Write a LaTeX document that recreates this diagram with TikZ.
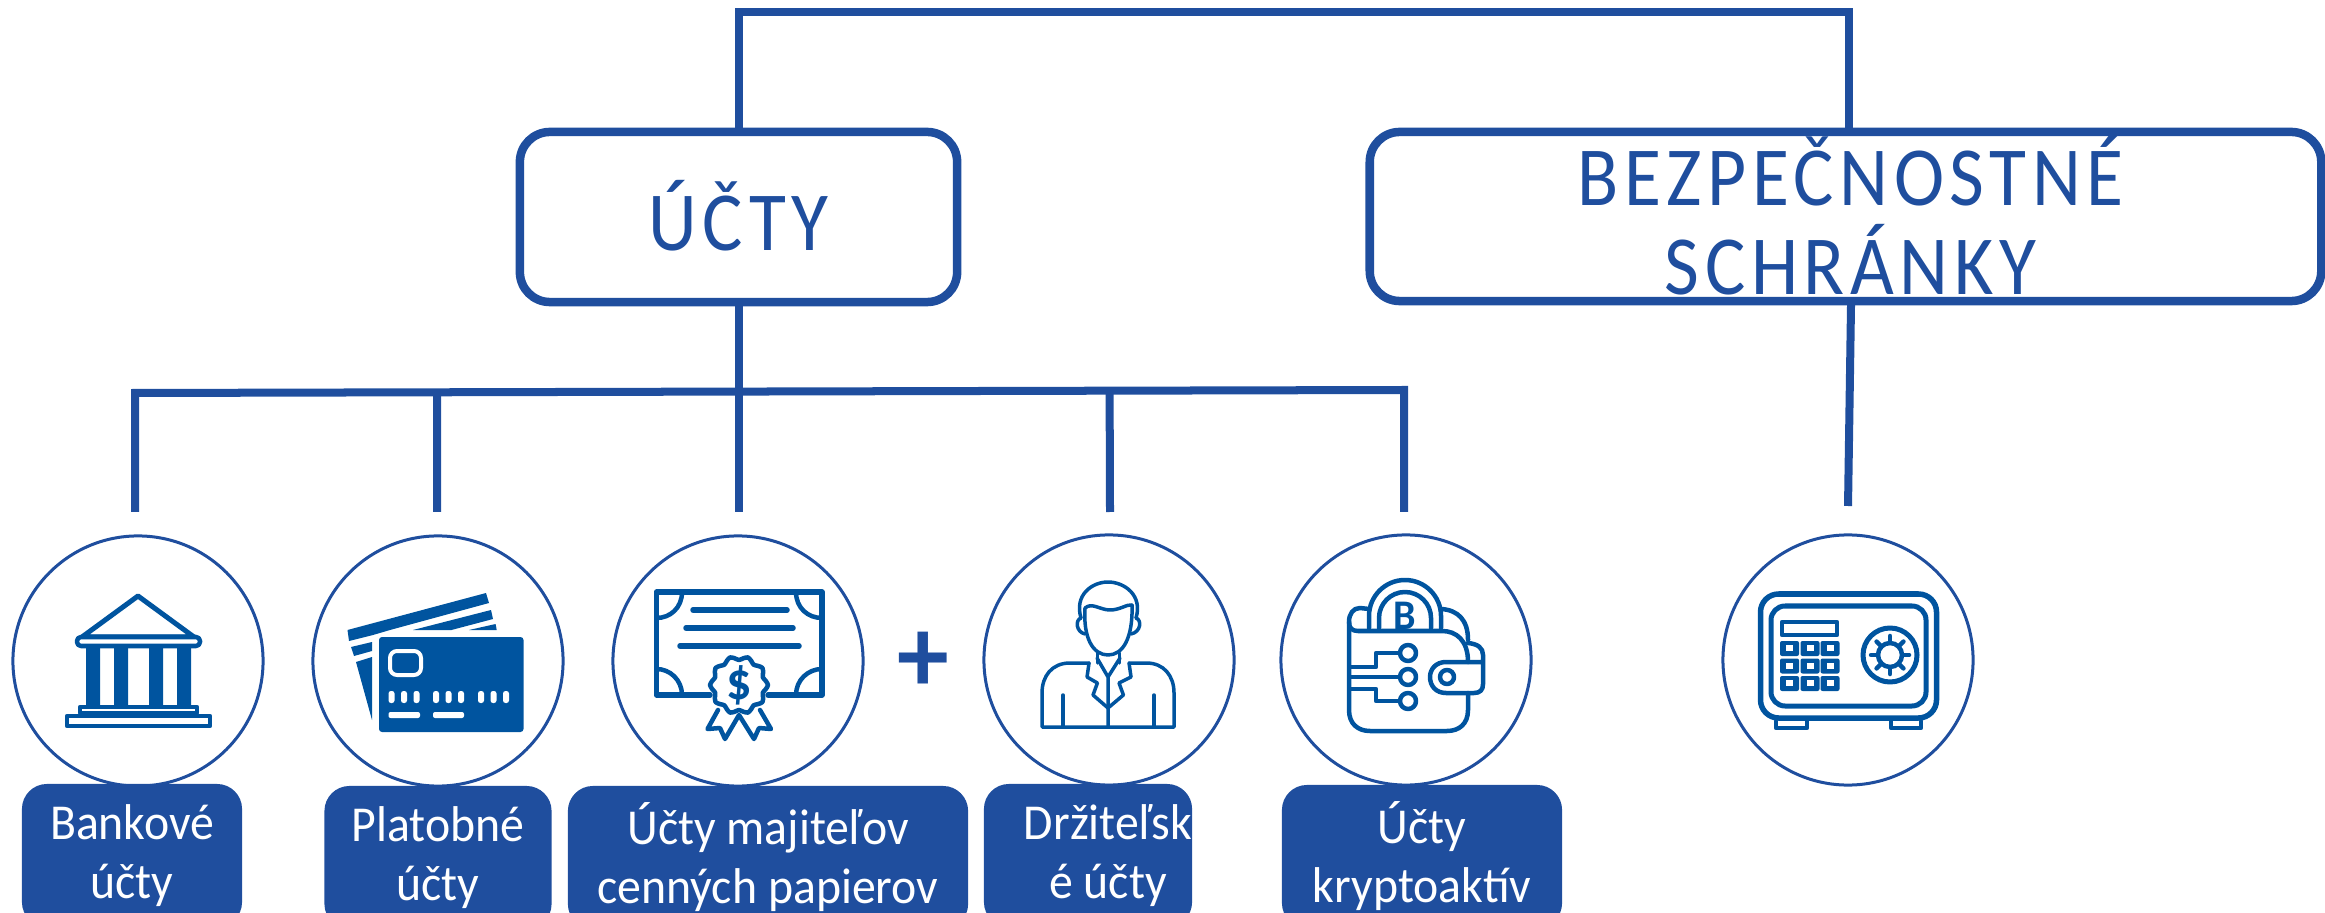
\documentclass[tikz,border=0pt]{standalone}
\usepackage{fontspec}
\usetikzlibrary{calc}
\setmainfont[FakeStretch=0.95]{Carlito}
\newfontfamily\headfont[LetterSpace=6.7,FakeStretch=0.9]{Carlito}
\newcommand{\headup}[1]{\raisebox{0.03cm}{#1}}
\definecolor{boxblue}{HTML}{1F4E9E}
\definecolor{iconblue}{HTML}{00549F}
\tikzset{
	conn/.style={draw=boxblue, line width=0.08cm},
	headbox/.style={draw=boxblue, line width=0.085cm, rounded corners=0.3cm, fill=white, align=center, inner sep=0pt,
		text=boxblue, font=\headfont\fontsize{23.9}{25.3}\selectfont},
	ring/.style={circle, draw=boxblue, line width=0.03cm, minimum size=2.5cm, inner sep=0pt},
	labelbox/.style={rectangle, fill=boxblue, rounded corners=0.25cm, text=white, align=center, inner sep=0pt,
		minimum height=1.43cm, font=\fontsize{14.3}{16.8}\selectfont},
	icon/.style={draw=iconblue, line width=0.045cm, line join=round, line cap=round},
	thin icon/.style={draw=iconblue, line width=0.035cm, line join=round, line cap=round}
}
\begin{document}
\begin{tikzpicture}[x=0.01cm, y=-0.01cm]
	\useasboundingbox (0,0) rectangle (2325,913);
	\clip (0,0) rectangle (2325,913);

	% top level boxes
	\node[headbox, minimum width=4.37cm, minimum height=1.70cm] (ucty) at (738.5,217) {\headup{ÚČTY}};
	\node[headbox, minimum width=9.51cm, minimum height=1.69cm] (bezp) at (1845.5,216.5) {\hspace*{0.1cm}\headup{BEZPEČNOSTNÉ}\\\hspace*{0.1cm}\headup{SCHRÁNKY}};

	% rings
	\node[ring] (bank) at (138,661) {};
	\node[ring] (card) at (438,661) {};
	\node[ring] (cert) at (738,661) {};
	\node[ring] (pers) at (1109,660) {};
	\node[ring] (wall) at (1406,660) {};
	\node[ring] (safe) at (1848,660) {};

	% labels
	\node[labelbox, minimum width=2.20cm] (lbank) at (132,855.5) {Bankové\\účty};
	\node[labelbox, minimum width=2.27cm] (lcard) at (438,857.5) {Platobné\\účty};
	\node[labelbox, minimum width=4.00cm] (lcert) at (768,857.5) {Účty majiteľov\\cenných papierov};
	\node[labelbox, minimum width=2.06cm] (lpers) at (1088,855.5) {\hspace*{0.4cm}Držiteľsk\\\hspace*{0.4cm}é účty};
	\node[labelbox, minimum width=2.80cm] (lwall) at (1422,856.5) {Účty\\kryptoaktív};

	\node[text=boxblue, inner sep=0pt, font=\bfseries\fontsize{31}{31}\selectfont] (plus) at (923,662) {+};

	% connectors
	\coordinate (topr) at (1849,12);
	\coordinate (busl) at (135,393);
	\coordinate (busr) at (1404,390);
	\coordinate (b2) at ($(busl)!0.238!(busr)$);
	\coordinate (b4) at ($(busl)!0.768!(busr)$);
	\coordinate (e1) at (135,512);
	\coordinate (e2) at (437,512);
	\coordinate (e3) at (738.5,512);
	\coordinate (e4) at (1110,512);
	\coordinate (e5) at (1404,512);
	\coordinate (e6) at (1848,506);

	\draw[conn] (ucty.north) |- (topr) -- (topr |- bezp.north);
	\draw[conn] (e1) -- (busl) -- (busr) -- (e5);
	\draw[conn] (ucty.south) -- (e3);
	\draw[conn] (b2) -- (e2);
	\draw[conn] (b4) -- (e4);
	\draw[conn] (1851,305) -- (e6);

	% bank
	\draw[icon, line width=0.05cm] (138,596) -- (82,637) -- (194,637) -- cycle;
	\draw[icon, line width=0.045cm, fill=white, rounded corners=0.04cm] (77,637) rectangle (200,646);
	\fill[iconblue] (86,648) rectangle (100,705) (114,648) rectangle (128,705) (149,648) rectangle (163,705) (177,648) rectangle (191,705);
	\draw[icon, fill=white] (80,707) rectangle (197,713);
	\draw[icon, fill=white] (67,716) rectangle (210,726);

	% cards
	\fill[iconblue] (347.5,630) -- (486,593) -- (489,603) -- (390,630) -- (373,635) -- (349,641) -- cycle;
	\fill[iconblue] (413,630) -- (491,610) -- (493,619) -- (451.5,630) -- cycle;
	\fill[iconblue] (469,630) -- (495.6,624) -- (496.7,630) -- cycle;
	\fill[iconblue] (351,647) -- (372,642) -- (372,651) -- (354,656) -- cycle;
	\fill[iconblue] (356,662) -- (372,657) -- (372,720) -- cycle;
	\fill[iconblue, rounded corners=0.03cm] (379,637) rectangle (523.5,732);
	\draw[white, line width=0.04cm, rounded corners=0.07cm] (390,651) rectangle (421,675);
	\foreach \g in {388.5,433,478}{
		\foreach \d in {0,12.5,25}{
			\fill[white, rounded corners=0.025cm] (\g+\d,691) rectangle (\g+\d+6,703);
		}
	}
	\fill[white, rounded corners=0.02cm] (388.5,712) rectangle (420,718) (433,712) rectangle (464,718);

	% certificate
	\draw[icon, line width=0.055cm] (710,695) -- (656.5,695) -- (656.5,592) -- (822,592) -- (822,695) -- (768,695);
	\draw[icon] (682,592) .. controls (682,608) and (670,618) .. (656.5,618);
	\draw[icon] (796,592) .. controls (796,608) and (808,618) .. (822,618);
	\draw[icon] (656.5,669) .. controls (670,669) and (682,680) .. (682,695);
	\draw[icon] (822,669) .. controls (808,669) and (796,680) .. (796,695);
	\draw[icon, line width=0.055cm] (693,610) -- (787,610) (686,628) -- (793,628) (680,646) -- (799,646);
	\draw[icon] (718,710) -- (707.5,729) -- (720,728) -- (725,739) -- (739,715) -- (754,739) -- (759,728) -- (771,729) -- (760,710);
	\draw[icon, fill=white] plot[smooth cycle, samples=40, domain=0:351] ({739+(27+2*cos(10*\x))*cos(\x)}, {685+(27+2*cos(10*\x))*sin(\x)});
	\node[text=iconblue, inner sep=0pt, font=\bfseries\fontsize{15}{15}\selectfont] (dollar) at (739,685) {\$};

	% person
	\draw[thin icon] (1081,618) .. controls (1074,595) and (1092,582) .. (1108,582) .. controls (1124,582) and (1143,595) .. (1136,618);
	\draw[thin icon] (1085,608) .. controls (1092,602) and (1100,610) .. (1110,610) .. controls (1120,610) and (1127,604) .. (1132,605);
	\draw[thin icon] (1085,608) .. controls (1083,638) and (1093,655) .. (1108,655) .. controls (1123,655) and (1133,638) .. (1132,605);
	\draw[thin icon] (1081,618) .. controls (1075,620) and (1076,632) .. (1085,634);
	\draw[thin icon] (1136,618) .. controls (1142,620) and (1141,632) .. (1131,634);
	\draw[thin icon] (1097.4,653) -- (1097.4,663) (1119.6,653) -- (1119.6,663);
	\draw[thin icon] (1089,663) -- (1070,663) .. controls (1052,663) and (1042,676) .. (1042,693) -- (1042,727) -- (1174,727) -- (1174,693) .. controls (1174,676) and (1164,663) .. (1146.4,663) -- (1129,663);
	\draw[thin icon] (1089,663) -- (1087,677) -- (1097.4,683) -- (1093,695) -- (1108,708) -- (1123.4,695) -- (1119,683) -- (1131,677) -- (1129,663);
	\draw[thin icon] (1097,658) -- (1108,677) -- (1120,658) (1108,677) -- (1108,727);
	\draw[thin icon] (1063,695) -- (1063,727) (1154,695) -- (1154,727);

	% wallet
	\node[text=iconblue, inner sep=0pt, font=\bfseries\fontsize{12}{12}\selectfont] (coin) at (1405,616) {B};
	\draw[icon] (1369,628) -- (1369,616) arc[start angle=180, end angle=360, radius=36] -- (1441,628);
	\draw[icon] (1379,628) -- (1379,618) arc[start angle=180, end angle=360, radius=26] -- (1431,628);
	\draw[icon] (1369,609) -- (1360,608) .. controls (1353,608) and (1349,614) .. (1349,622) -- (1349,710) .. controls (1349,724) and (1358,731) .. (1370,731) -- (1447,731) .. controls (1459,731) and (1468,724) .. (1468,710) -- (1468,693);
	\draw[icon] (1349,622) .. controls (1349,628) and (1352,631) .. (1358,631) -- (1442,631) .. controls (1456,631) and (1468,640) .. (1468,662);
	\draw[icon] (1441,609) .. controls (1458,610) and (1468,620) .. (1468,640);
	\draw[icon] (1468,643) .. controls (1478,644) and (1483,648) .. (1483,655) -- (1483,684) .. controls (1483,690) and (1480,693) .. (1474,693) -- (1446,693) .. controls (1436,693) and (1430,686) .. (1430,677) .. controls (1430,669) and (1436,662) .. (1446,662) -- (1483,662);
	\draw[icon] (1447,677) circle[radius=7];
	\draw[icon] (1350,667) -- (1376,667) -- (1376,653) -- (1399,653);
	\draw[icon] (1350,677) -- (1399,677);
	\draw[icon] (1350,689) -- (1376,689) -- (1376,701) -- (1399,701);
	\draw[icon] (1408,653) circle[radius=8] (1408,677) circle[radius=8] (1408,701) circle[radius=8];

	% safe
	\draw[icon, line width=0.055cm, rounded corners=0.18cm] (1760.5,594) rectangle (1936.5,718);
	\draw[icon, line width=0.05cm, rounded corners=0.14cm] (1771,606) rectangle (1926,706);
	\draw[icon] (1776,721) -- (1776,728) -- (1807,728) -- (1807,721);
	\draw[icon] (1891,721) -- (1891,728) -- (1921,728) -- (1921,721);
	\draw[icon] (1782,622) rectangle (1837,635);
	\foreach \kx in {1780,1800.5,1820.5}{
		\foreach \ky in {641,658.5,676}{
			\fill[iconblue, rounded corners=0.02cm] (\kx,\ky) rectangle (\kx+19,\ky+15);
			\fill[white] (\kx+6,\ky+4) rectangle (\kx+13,\ky+10);
		}
	}
	\draw[icon, line width=0.05cm] (1890,655) circle[radius=27];
	\draw[icon] (1890,655) circle[radius=12];
	\foreach \a in {0,45,...,315}{
		\draw[icon] ($(1890,655)+(\a:12)$) -- ($(1890,655)+(\a:19)$);
	}
\end{tikzpicture}
\end{document}
